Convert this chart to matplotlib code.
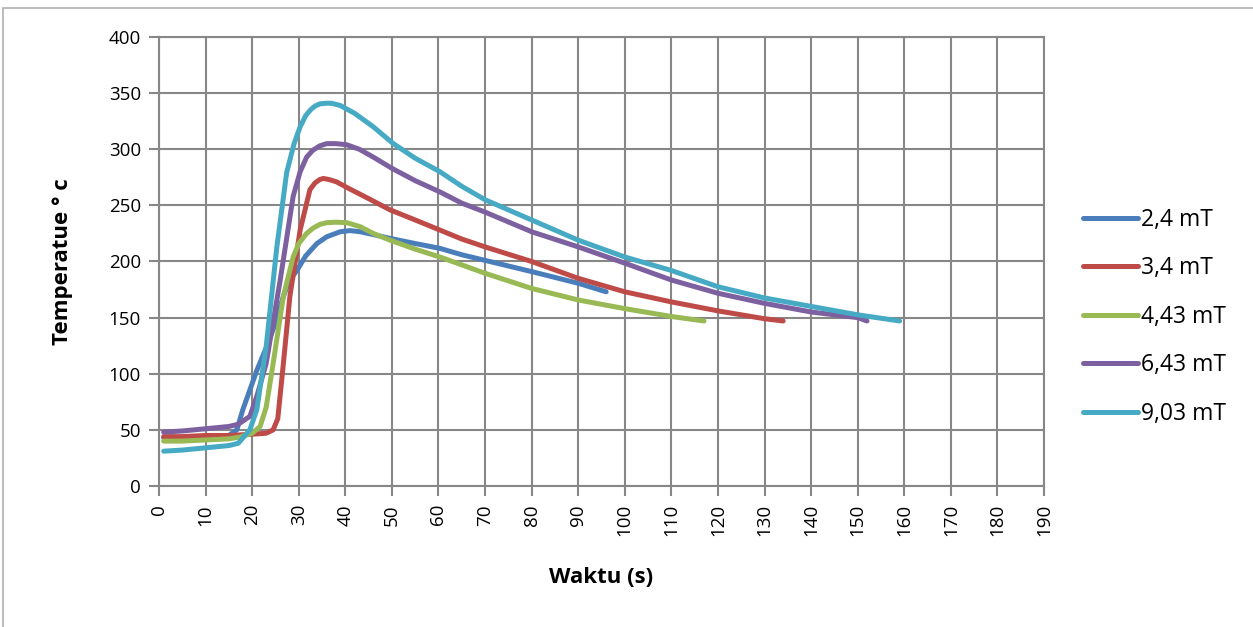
import matplotlib.pyplot as plt
from matplotlib.patches import Rectangle

# data
waktu_24 = [1, 5, 10, 15, 16.7, 18, 19.5, 21, 23.1, 25, 26.7, 28, 29.6, 31.5, 33.9, 36, 38.9, 41, 43.2, 46, 49.6, 55, 60.3, 65, 70, 80, 90, 96]
temp_24 = [43, 43, 44, 45, 50, 68, 85.5, 103, 124, 145, 169, 183, 192, 205, 216, 222, 226.5, 227.5, 226.5, 224, 220.6, 216, 211.7, 206, 201, 191, 180.6, 173]

waktu_34 = [1, 5, 10, 15, 19.5, 23, 24.5, 25.5, 26.7, 28.1, 30.3, 32.4, 33.5, 34.5, 35.3, 36.5, 38.1, 40.3, 45, 49.6, 55, 60.3, 65, 70, 80, 90, 100, 110, 120, 130, 134]
temp_34 = [44, 44, 45, 45, 46, 47, 50, 60, 109, 169, 228, 264, 270, 273, 274, 273, 271, 266, 256, 246, 237, 228, 220, 213, 200, 185, 173, 164, 156, 149, 147]

waktu_443 = [1, 5, 10, 15, 17.4, 20, 21.7, 23, 24.5, 26.7, 28.8, 30, 31.7, 33, 34.5, 36, 38, 40.3, 43.2, 46, 49.6, 55, 60.3, 65, 70, 80, 90, 100, 110, 117]
temp_443 = [40, 40, 41, 42, 43.6, 47, 53, 70, 109, 169, 204, 216, 225, 229.5, 233, 234.6, 235, 234.6, 231, 225, 219, 211, 204, 197, 189.5, 176, 165.7, 158, 151, 147]

waktu_643 = [1, 5, 10, 15, 17, 19.5, 21, 23, 26, 28.8, 30.3, 31.7, 33, 34.5, 36, 38, 40.3, 43, 46, 50, 55, 60.3, 65, 70, 80, 90, 100, 110, 120, 130, 140, 150, 152]
temp_643 = [48, 49, 51, 53, 55, 62, 80, 109, 183, 258, 280, 293, 299, 303, 305, 305, 304, 300, 293, 283, 272, 262, 252, 244, 226.5, 213, 198.5, 183.5, 171.7, 162.7, 155, 150, 147]

waktu_903 = [1, 5, 10, 15, 17, 19.5, 21, 23, 25.3, 27.4, 29, 30.3, 31.5, 32.5, 33.5, 34.6, 36, 37, 38.9, 42, 46, 50.3, 55, 60.3, 65, 70, 75, 80, 90, 100, 110, 120, 130, 140, 150, 159]
temp_903 = [31, 32, 34, 36, 38, 50, 68, 124, 213, 279, 305, 320, 330, 335, 338.5, 340.5, 341, 341, 339, 332, 320, 305, 292, 280, 267, 255, 246, 237, 219, 204, 192, 177.5, 167.5, 160, 152.5, 147]

labels = ['2,4 mT', '3,4 mT', '4,43 mT', '6,43 mT', '9,03 mT']
colors = ['#4A7EBB', '#BE4B48', '#98B954', '#7D60A0', '#46AAC5']

plt.rcParams['font.family'] = ['Open Sans', 'DejaVu Sans']
plt.rcParams['font.size'] = 13.5

fig = plt.figure(figsize=(12.53, 6.27), dpi=100)
ax = fig.add_axes([0.1269, 0.2249, 0.7063, 0.7161])

# chart frame like excel
fig.patches.append(Rectangle((0.0024, -0.05), 1.05, 1.037, transform=fig.transFigure,
                             fill=False, edgecolor='#b0b0b0', linewidth=1.2))

series = [(waktu_24, temp_24), (waktu_34, temp_34), (waktu_443, temp_443),
          (waktu_643, temp_643), (waktu_903, temp_903)]
for (x, y), lab, c in zip(series, labels, colors):
    ax.plot(x, y, color=c, linewidth=3.6, label=lab,
            solid_capstyle='round', solid_joinstyle='round')

ax.set_xlim(0, 190)
ax.set_ylim(0, 400)
ax.set_xticks(range(0, 191, 10))
ax.set_yticks(range(0, 401, 50))
ax.tick_params(axis='x', labelrotation=90)
ax.tick_params(length=7, width=1.5, color='#878787', pad=6)
ax.grid(True, color='#878787', linewidth=1.5)
ax.set_axisbelow(True)
for s in ax.spines.values():
    s.set_color('#878787')
    s.set_linewidth(1.5)

ax.set_xlabel('Waktu (s)', fontweight='bold', fontsize=16, labelpad=22)
ax.set_ylabel('Temperatue ° c', fontweight='bold', fontsize=16, labelpad=26)

fig.legend(loc='center left', bbox_to_anchor=(0.864, 0.495), frameon=False,
           handlelength=2.4, handletextpad=0.13, labelspacing=1.07,
           borderpad=0, borderaxespad=0, fontsize=16.5)

plt.savefig('out.png', dpi=100)
